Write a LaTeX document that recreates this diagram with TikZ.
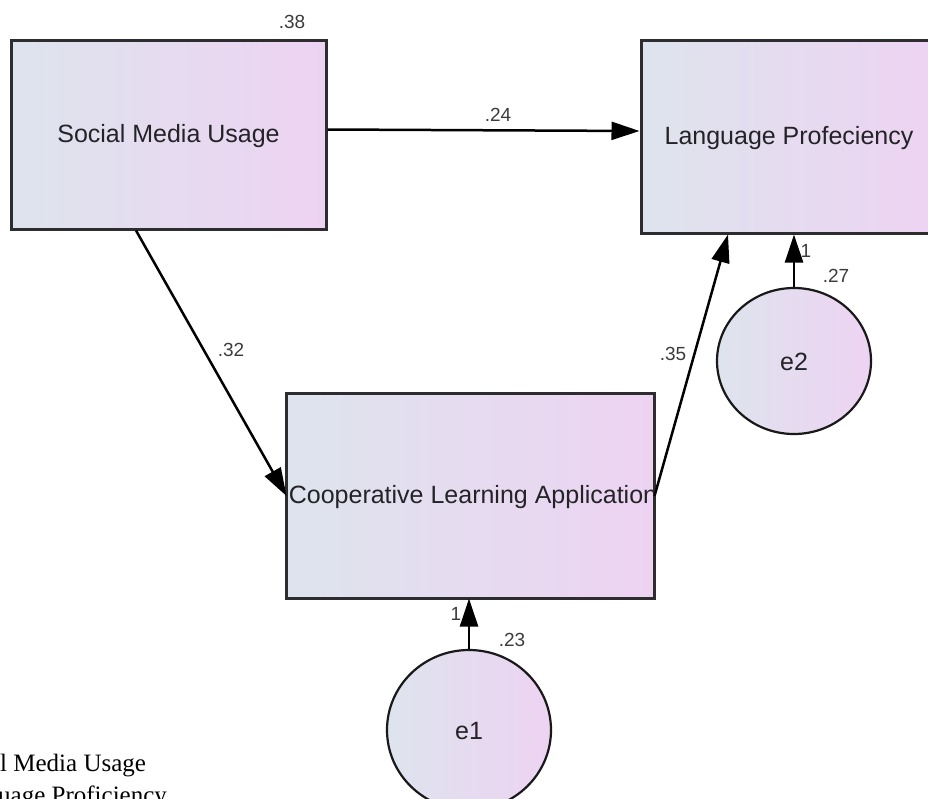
\documentclass[tikz,border=0pt]{standalone}
\usepackage{fontspec}
\setmainfont{Liberation Sans}
\newfontfamily\docserif{Liberation Serif}
\usetikzlibrary{arrows.meta,shapes.geometric}
\definecolor{shadeL}{RGB}{222,228,237}
\definecolor{shadeR}{RGB}{237,211,242}
\definecolor{boxline}{RGB}{45,45,48}
\definecolor{txt}{RGB}{35,35,40}
\definecolor{lbl}{RGB}{60,60,60}
\tikzset{
  varbox/.style={draw=boxline, line width=3pt, left color=shadeL, right color=shadeR, inner sep=0pt, rectangle},
  errc/.style={draw=black!90, line width=2.2pt, left color=shadeL, right color=shadeR, ellipse, inner sep=0pt},
  big/.style={text=txt, font=\fontsize{25}{30}\selectfont, inner sep=0pt},
  coef/.style={text=lbl, font=\fontsize{19}{22}\selectfont, inner sep=0pt},
  arr/.style={line width=2.5pt, black, -{Triangle[length=28pt,width=18pt]}},
  doc/.style={text=black, font=\docserif\fontsize{25}{30}\selectfont, inner sep=0pt, anchor=base west},
}
\begin{document}
\begin{tikzpicture}[x=1pt,y=-1pt]
\useasboundingbox (0,0) rectangle (928,798);
\clip (0,0) rectangle (928,798);
\fill[white] (0,0) rectangle (928,798);

% boxes
\node[varbox, minimum width=315pt, minimum height=189pt] (smu) at (168.5,134.5) {};
\node[big] (smut) at (168.5,136) {Social Media Usage};
\node[varbox, minimum width=296pt, minimum height=193pt] (lp) at (789,136.5) {};
\node[big] (lpt) at (789,138) {Language Profeciency};
\node[varbox, draw=none, minimum width=365pt, minimum height=202pt] (cla) at (470.5,496) {};
\begin{scope}
  \clip (cla.south west) rectangle (cla.north east);
  \node[big] (clat) at (473,497) {Cooperative Learning Application};
\end{scope}
\draw[boxline, line width=3pt] (cla.south west) rectangle (cla.north east);

% error terms
\node[errc, minimum width=164pt, minimum height=160pt] (e1) at (469,730) {};
\node[big] (e1t) at (469,731) {e1};
\node[errc, minimum width=154pt, minimum height=146pt] (e2) at (794,361) {};
\node[big] (e2t) at (794,362) {e2};

% paths
\draw[arr] ([yshift=5pt]smu.east) -- ([yshift=5.5pt]lp.west);
\draw[arr] ([xshift=-32.5pt]smu.south) -- (cla.west);
\draw[arr] (cla.east) -- ([xshift=-61pt]lp.south);
\draw[arr] (e2.north) -- (e2.north |- lp.south);
\draw[arr] (e1.north) -- (e1.north |- cla.south);

% coefficients
\node[coef] (c38) at (292,22) {.38};
\node[coef] (c24) at (498,115) {.24};
\node[coef] (c32) at (231,350) {.32};
\node[coef] (c35) at (673,354) {.35};
\node[coef] (c1b) at (806,251) {1};
\node[coef] (c27) at (836,276) {.27};
\node[coef] (c1a) at (456,614) {1};
\node[coef] (c23) at (512,640) {.23};

% fragments of the page text below
\node[doc] (frag1) at (0,771) {l Media Usage};
\node[doc] (frag2) at (-2,803.5) {uage Proficiency};
\end{tikzpicture}
\end{document}
